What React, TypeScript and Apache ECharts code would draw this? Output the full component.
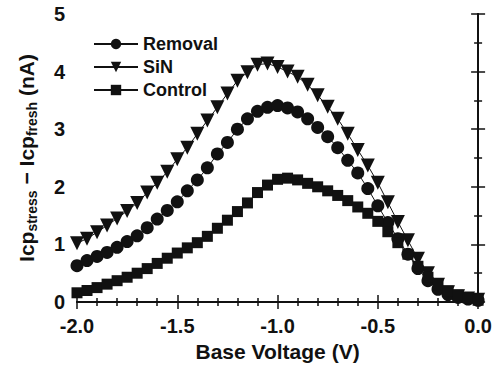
import React, { useEffect, useRef } from "react";
import * as echarts from "echarts";

const voltages = [
  -2.0, -1.95, -1.9, -1.85, -1.8, -1.75, -1.7, -1.65, -1.6, -1.55, -1.5, -1.45, -1.4, -1.35,
  -1.3, -1.25, -1.2, -1.15, -1.1, -1.05, -1.0, -0.95, -0.9, -0.85, -0.8, -0.75, -0.7, -0.65,
  -0.6, -0.55, -0.5, -0.45, -0.4, -0.35, -0.3, -0.25, -0.2, -0.15, -0.1, -0.05, 0.0,
];

const removal = [
  0.63, 0.72, 0.79, 0.86, 0.95, 1.05, 1.15, 1.29, 1.44, 1.59, 1.74, 1.93, 2.12, 2.33,
  2.57, 2.77, 3.0, 3.18, 3.31, 3.38, 3.41, 3.37, 3.3, 3.18, 3.03, 2.87, 2.68, 2.46,
  2.24, 1.97, 1.67, 1.38, 1.1, 0.83, 0.58, 0.37, 0.22, 0.13, 0.08, 0.05, 0.03,
];

const sin = [
  1.02, 1.1, 1.21, 1.33, 1.45, 1.58, 1.72, 1.9, 2.07, 2.26, 2.48, 2.68, 2.92, 3.15,
  3.38, 3.62, 3.84, 3.99, 4.12, 4.14, 4.08, 4.0, 3.91, 3.77, 3.59, 3.39, 3.18, 2.92,
  2.64, 2.37, 2.07, 1.73, 1.39, 1.07, 0.75, 0.5, 0.3, 0.17, 0.1, 0.06, 0.04,
];

const control = [
  0.16, 0.2, 0.25, 0.31, 0.37, 0.43, 0.5, 0.58, 0.67, 0.76, 0.85, 0.94, 1.03, 1.14,
  1.28, 1.42, 1.57, 1.72, 1.9, 2.03, 2.13, 2.15, 2.12, 2.06, 2.0, 1.93, 1.85, 1.76,
  1.65, 1.54, 1.4, 1.22, 1.03, 0.83, 0.62, 0.43, 0.29, 0.19, 0.12, 0.07, 0.03,
];

const seriesNames = ["Removal", "SiN", "Control"];
const xTicks = [-2.0, -1.5, -1.0, -0.5, 0.0];

const FONT = "'Liberation Sans', Arial, sans-serif";
const INK = "#111";

function pairs(ys: number[]) {
  return voltages.map((v, i) => [v, ys[i]]);
}

export default function App() {
  const ref = useRef<HTMLDivElement>(null);
  useEffect(() => {
    if (!ref.current) return;
    const chart = echarts.init(ref.current, undefined, { renderer: "svg" });
    const axisLine = { show: true, lineStyle: { color: INK, width: 2 } };
    const baseX = {
      type: "value" as const,
      min: -2,
      max: 0,
      interval: 0.5,
      axisLine,
      axisTick: { inside: true, length: 7, lineStyle: { color: INK, width: 1.5 } },
      minorTick: { show: true, splitNumber: 5, length: 4, lineStyle: { color: INK, width: 1.5 } },
      splitLine: { show: false },
    };
    const baseY = {
      type: "value" as const,
      min: 0,
      max: 5,
      interval: 1,
      axisLine,
      axisTick: { inside: true, length: 7, lineStyle: { color: INK, width: 1.5 } },
      minorTick: { show: true, splitNumber: 2, length: 4, lineStyle: { color: INK, width: 1.5 } },
      splitLine: { show: false },
    };
    const common = {
      type: "line" as const,
      clip: false,
      lineStyle: { color: INK, width: 1 },
      itemStyle: { color: INK },
    };
    chart.setOption({
      animation: false,
      backgroundColor: "#fff",
      grid: { left: 77, right: 15, top: 14, bottom: 75 },
      legend: {
        orient: "vertical",
        left: 88,
        top: 30,
        itemWidth: 44,
        itemHeight: 13,
        itemGap: 5,
        data: seriesNames,
        textStyle: { fontFamily: FONT, fontSize: 18, fontWeight: "bold", color: INK },
      },
      xAxis: [
        {
          ...baseX,
          position: "bottom",
          name: "Base Voltage (V)",
          nameLocation: "middle",
          nameGap: 35,
          nameTextStyle: { fontFamily: FONT, fontSize: 21, fontWeight: "bold", color: INK },
          axisLabel: {
            margin: 14,
            fontFamily: FONT,
            fontSize: 20,
            fontWeight: "bold",
            color: INK,
            formatter: (v: number) => (xTicks.includes(v) ? v.toFixed(1) : ""),
          },
        },
        { ...baseX, position: "top", axisLabel: { show: false } },
      ],
      yAxis: [
        {
          ...baseY,
          position: "left",
          name: "{m|Icp}{s|stress}{m| − Icp}{s|fresh}{m| (nA)}",
          nameLocation: "middle",
          nameGap: 36,
          nameTextStyle: {
            rich: {
              m: { fontFamily: FONT, fontSize: 21, fontWeight: "bold", color: INK, lineHeight: 30 },
              s: {
                fontFamily: FONT,
                fontSize: 14,
                fontWeight: "bold",
                color: INK,
                lineHeight: 30,
                padding: [12, 0, 0, 0],
              },
            },
          },
          axisLabel: {
            margin: 12,
            fontFamily: FONT,
            fontSize: 20,
            fontWeight: "bold",
            color: INK,
          },
        },
        { ...baseY, position: "right", axisLabel: { show: false } },
      ],
      series: [
        { ...common, name: "Removal", data: pairs(removal), symbol: "circle", symbolSize: 13 },
        {
          ...common,
          name: "SiN",
          data: pairs(sin),
          symbol: "triangle",
          symbolRotate: 180,
          symbolSize: 14,
        },
        { ...common, name: "Control", data: pairs(control), symbol: "rect", symbolSize: 11 },
      ],
    });
    return () => chart.dispose();
  }, []);
  return <div ref={ref} style={{ width: 495, height: 377, position: "absolute", left: 0, top: 0 }} />;
}
